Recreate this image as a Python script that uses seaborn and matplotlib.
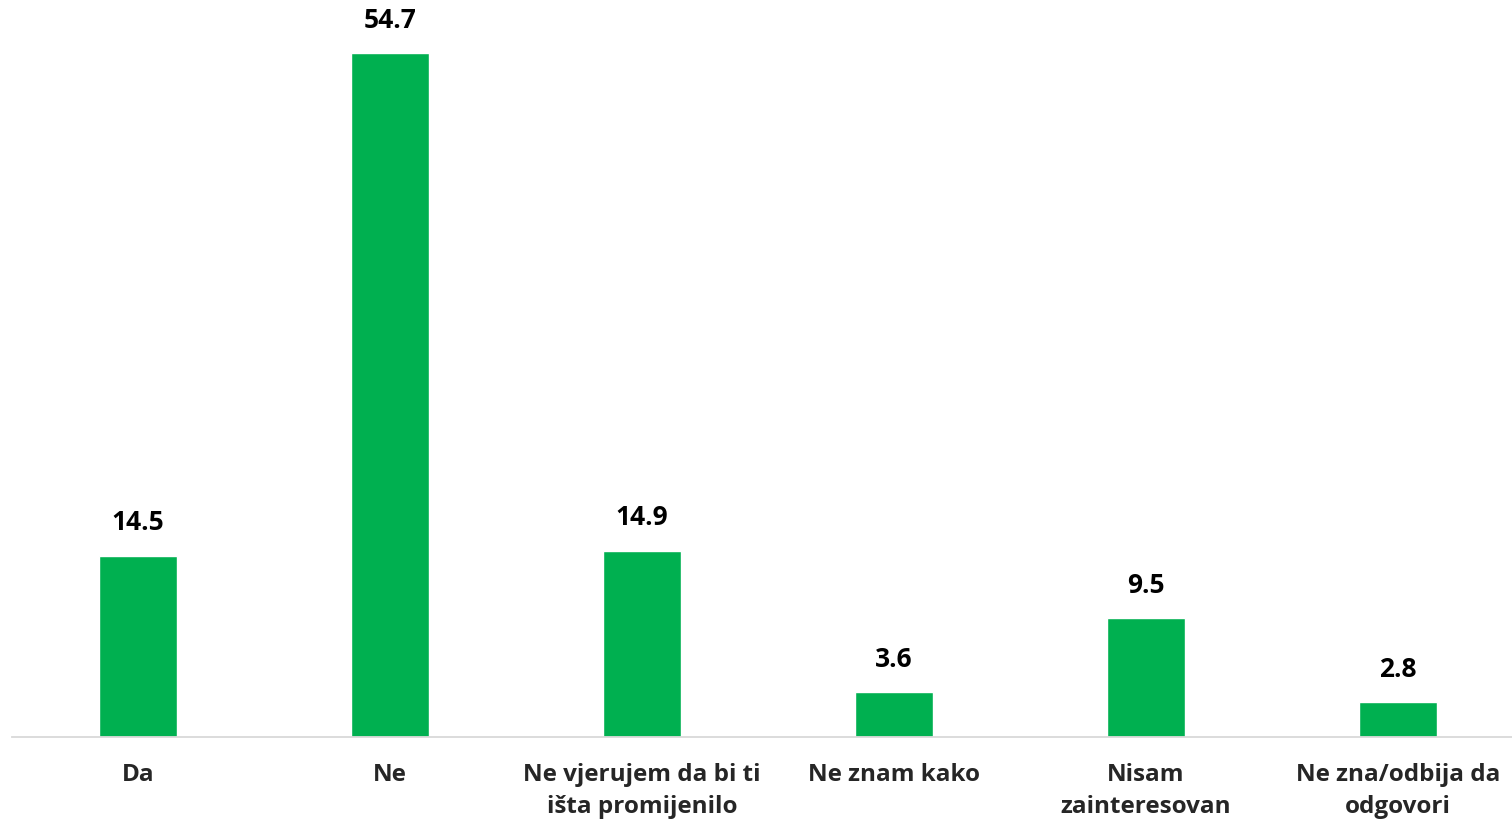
import matplotlib
matplotlib.use('Agg')
import matplotlib.pyplot as plt
import seaborn as sns
import pandas as pd

categories = ['Da', 'Ne', 'Ne vjerujem da bi ti\ništa promijenilo', 'Ne znam kako',
              'Nisam\nzainteresovan', 'Ne zna/odbija da\nodgovori']
values = [14.5, 54.7, 14.9, 3.6, 9.5, 2.8]

sns.set_style('white')
plt.rcParams['font.family'] = ['Open Sans', 'DejaVu Sans']

df = pd.DataFrame({'cat': categories, 'val': values})

fig = plt.figure(figsize=(15.12, 8.25), dpi=100)
ax = fig.add_axes([12 / 1512, 88 / 825, 1 - 12 / 1512, 1 - 88 / 825])
sns.barplot(data=df, x='cat', y='val', color='#00B050', saturation=1, width=0.31, ax=ax)

# value labels
for i, v in enumerate(values):
    ax.annotate(f'{v:.1f}', (i, v), xytext=(0, 14), textcoords='offset points',
                ha='center', va='bottom', fontsize=19, fontweight='bold', color='black')

ax.set_xlim(-0.5, 5.452)
ax.set_ylim(0, 58.96)
ax.set_xlabel('')
ax.set_ylabel('')
ax.set_yticks([])
ax.tick_params(axis='x', length=0, pad=19, labelsize=17.5)
for lab in ax.get_xticklabels():
    lab.set_fontweight('bold')
    lab.set_linespacing(1.45)
for s in ['top', 'right', 'left']:
    ax.spines[s].set_visible(False)
ax.spines['bottom'].set_color('#D9D9D9')
ax.spines['bottom'].set_linewidth(1.3)

fig.savefig('out.png', dpi=100)
